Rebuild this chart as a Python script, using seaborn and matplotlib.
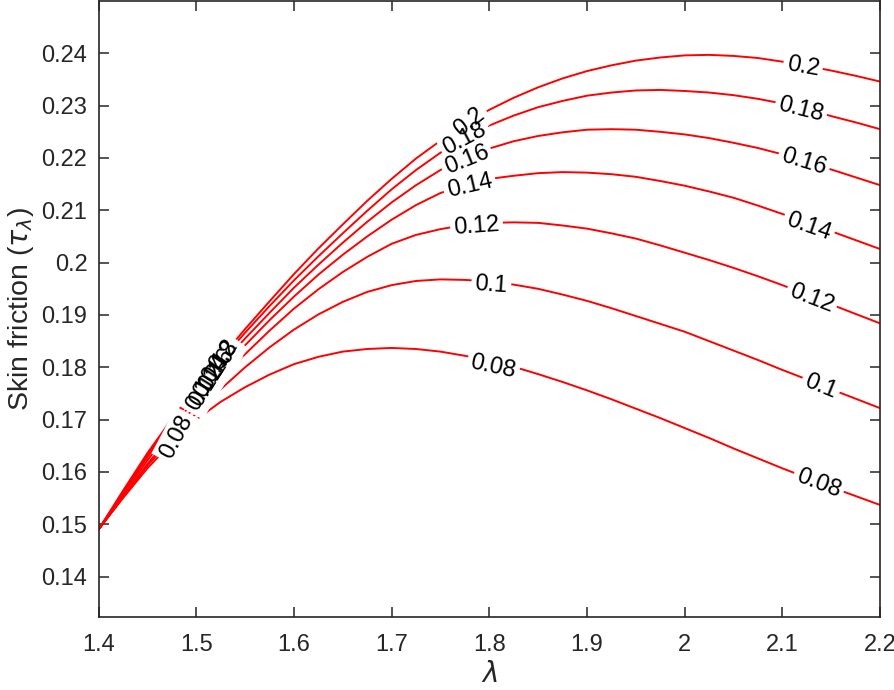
import numpy as np
import pandas as pd
import matplotlib
matplotlib.use("Agg")
import matplotlib.pyplot as plt
import seaborn as sns
from matplotlib.ticker import FormatStrFormatter

# lambda grid and skin friction values
lam = [1.4, 1.425, 1.45, 1.475, 1.5, 1.525, 1.55, 1.575, 1.6, 1.625, 1.65,
       1.675, 1.7, 1.725, 1.75, 1.775, 1.8, 1.825, 1.85, 1.875, 1.9, 1.925,
       1.95, 1.975, 2.0, 2.025, 2.05, 2.075, 2.1, 2.125, 2.15, 2.175, 2.2]
levels = ["0.08", "0.1", "0.12", "0.14", "0.16", "0.18", "0.2"]

tau_008 = [0.149, 0.1550, 0.1607, 0.1656, 0.1700, 0.1734, 0.1762, 0.1786, 0.1806,
           0.1820, 0.1830, 0.1835, 0.1837, 0.1835, 0.1830, 0.1822, 0.1813, 0.1801,
           0.1787, 0.1772, 0.1756, 0.1739, 0.1721, 0.1703, 0.1684, 0.1665, 0.1645,
           0.1626, 0.1607, 0.1589, 0.1571, 0.1554, 0.1537]
tau_010 = [0.149, 0.1552, 0.1612, 0.1664, 0.1712, 0.1758, 0.1800, 0.1838, 0.1872,
           0.1901, 0.1925, 0.1944, 0.1957, 0.1965, 0.1968, 0.1967, 0.1964, 0.1958,
           0.1950, 0.1939, 0.1927, 0.1913, 0.1898, 0.1883, 0.1868, 0.1850, 0.1832,
           0.1814, 0.1795, 0.1777, 0.1758, 0.1740, 0.1722]
tau_012 = [0.149, 0.1553, 0.1615, 0.1673, 0.1728, 0.1778, 0.1825, 0.1870, 0.1912,
           0.1949, 0.1982, 0.2011, 0.2036, 0.2053, 0.2064, 0.2072, 0.2076, 0.2077,
           0.2076, 0.2071, 0.2065, 0.2056, 0.2046, 0.2033, 0.2019, 0.2005, 0.1990,
           0.1974, 0.1957, 0.1939, 0.1920, 0.1902, 0.1884]
tau_014 = [0.149, 0.1556, 0.1622, 0.1684, 0.1742, 0.1793, 0.1842, 0.1890, 0.1935,
           0.1977, 0.2015, 0.2050, 0.2082, 0.2110, 0.2133, 0.2149, 0.2160, 0.2166,
           0.2171, 0.2173, 0.2172, 0.2169, 0.2164, 0.2156, 0.2147, 0.2136, 0.2124,
           0.2109, 0.2093, 0.2077, 0.2060, 0.2043, 0.2026]
tau_016 = [0.149, 0.1559, 0.1628, 0.1692, 0.1752, 0.1804, 0.1855, 0.1904, 0.1952,
           0.1996, 0.2038, 0.2078, 0.2115, 0.2148, 0.2177, 0.2200, 0.2218, 0.2232,
           0.2242, 0.2249, 0.2254, 0.2255, 0.2254, 0.2250, 0.2245, 0.2238, 0.2229,
           0.2219, 0.2207, 0.2193, 0.2178, 0.2163, 0.2148]
tau_018 = [0.149, 0.1561, 0.1632, 0.1697, 0.1758, 0.1813, 0.1866, 0.1917, 0.1966,
           0.2012, 0.2056, 0.2099, 0.2140, 0.2177, 0.2210, 0.2238, 0.2262, 0.2281,
           0.2297, 0.2309, 0.2319, 0.2325, 0.2329, 0.2330, 0.2328, 0.2325, 0.2320,
           0.2313, 0.2304, 0.2293, 0.2280, 0.2268, 0.2255]
tau_020 = [0.149, 0.1564, 0.1636, 0.1701, 0.1762, 0.1818, 0.1873, 0.1926, 0.1978,
           0.2027, 0.2073, 0.2118, 0.2160, 0.2199, 0.2233, 0.2264, 0.2292, 0.2315,
           0.2335, 0.2352, 0.2366, 0.2377, 0.2386, 0.2392, 0.2396, 0.2397, 0.2395,
           0.2391, 0.2384, 0.2376, 0.2367, 0.2357, 0.2346]

series = [tau_008, tau_010, tau_012, tau_014, tau_016, tau_018, tau_020]
df = pd.concat([pd.DataFrame({"lam": lam, "tau": s, "level": lv})
                for lv, s in zip(levels, series)], ignore_index=True)

# inline contour labels: (text, x, y, rotation)
labels = [
    ("0.2", 2.121, 0.2374, -10), ("0.18", 2.119, 0.2292, -14),
    ("0.16", 2.122, 0.2192, -17), ("0.14", 2.127, 0.2069, -19),
    ("0.12", 2.130, 0.1932, -21), ("0.1", 2.139, 0.1763, -22),
    ("0.08", 2.137, 0.1578, -21),
    ("0.12", 1.787, 0.2069, 4), ("0.14", 1.780, 0.2146, 13),
    ("0.16", 1.777, 0.2196, 22), ("0.18", 1.775, 0.2236, 28),
    ("0.2", 1.780, 0.2269, 38), ("0.1", 1.802, 0.1957, -4),
    ("0.08", 1.804, 0.1801, -12),
    ("0.08", 1.480, 0.1667, 62), ("0.1", 1.504, 0.1747, 60),
    ("0.12", 1.511, 0.1766, 58), ("0.14", 1.516, 0.1782, 57),
    ("0.16", 1.521, 0.1795, 56), ("0.18", 1.525, 0.1810, 55),
    ("0.2", 1.528, 0.1824, 54),
]

sns.set_style("ticks")
plt.rcParams["font.family"] = ["Liberation Sans", "DejaVu Sans"]
plt.rcParams["mathtext.fontset"] = "dejavusans"

fig = plt.figure(figsize=(8.94, 6.9), dpi=100)
ax = fig.add_axes([0.1102, 0.1051, 0.8742, 0.8935])

sns.lineplot(data=df, x="lam", y="tau", hue="level", palette=["red"] * 7,
             estimator=None, sort=False, legend=False, lw=1.4, ax=ax, zorder=2)

# white boxes first (to cut the lines), then the black label text
for txt, x, y, rot in labels:
    ax.text(x, y, txt, rotation=rot, rotation_mode="anchor", ha="center", va="center",
            fontsize=17, color="white", zorder=3,
            bbox=dict(boxstyle="square,pad=0.15", fc="white", ec="none"))
for txt, x, y, rot in labels:
    ax.text(x, y, txt, rotation=rot, rotation_mode="anchor", ha="center", va="center",
            fontsize=17, color="black", zorder=4)

ax.set_xlim(1.4, 2.2)
ax.set_ylim(0.1322, 0.25)
ax.set_xticks(np.arange(1.4, 2.21, 0.1))
ax.set_yticks(np.arange(0.14, 0.241, 0.01))
ax.xaxis.set_major_formatter(FormatStrFormatter("%g"))
ax.yaxis.set_major_formatter(FormatStrFormatter("%g"))
ax.tick_params(direction="in", length=7, width=1.1, labelsize=17, colors="#262626",
               top=True, right=True)
ax.tick_params(axis="x", pad=12)
ax.tick_params(axis="y", pad=8)
for sp in ax.spines.values():
    sp.set_visible(True)
    sp.set_color("#262626")
    sp.set_linewidth(1.2)

ax.set_xlabel(r"$\lambda$", fontsize=20, labelpad=4)
ax.set_ylabel(r"Skin friction ($\tau_\lambda$)", fontsize=20.5, labelpad=4)

fig.savefig("out.png", dpi=100)
